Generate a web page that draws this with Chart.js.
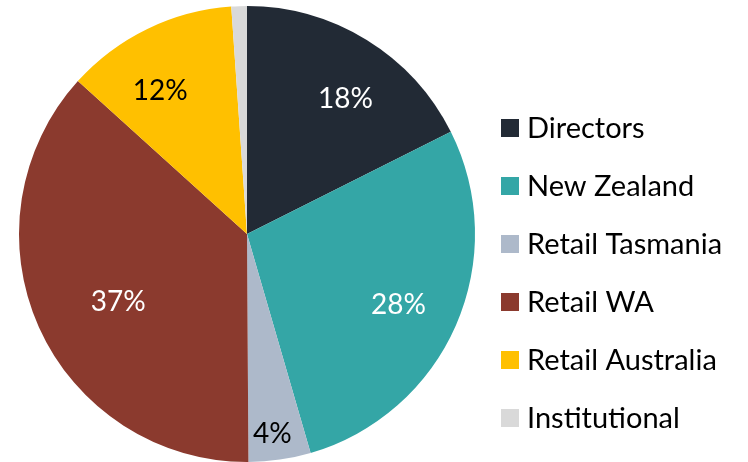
<!DOCTYPE html>
<html>
<head>
<meta charset="utf-8">
<script src="https://cdn.jsdelivr.net/npm/chart.js@4"></script>
<style>
    html, body { margin: 0; padding: 0; background: #ffffff; }
    #wrap { width: 748px; height: 462px; }
</style>
</head>
<body>
<div id="wrap"><canvas id="shareChart" width="748" height="462"></canvas></div>
<script>
// Shareholder groups and their share of the register (%)
const categories = ['Directors', 'New Zealand', 'Retail Tasmania', 'Retail WA', 'Retail Australia', 'Institutional'];
const shares = [17.6, 27.9, 4.4, 36.8, 12.2, 1.1];
const sliceColors = ['#222a35', '#34a6a6', '#adb9ca', '#8b3a2e', '#ffc000', '#d9d9d9'];
const labelColors = ['#ffffff', '#ffffff', '#000000', '#ffffff', '#000000', '#000000'];
const showLabel = [true, true, true, true, true, false];

const FONT = 'Lato, "Open Sans", sans-serif';

// Percent labels inside slices
const sliceLabels = {
    id: 'sliceLabels',
    afterDatasetsDraw(chart, args, opts) {
        const ctx = chart.ctx;
        const arcs = chart.getDatasetMeta(0).data;
        ctx.save();
        ctx.font = opts.size + 'px ' + FONT;
        ctx.textAlign = 'center';
        ctx.textBaseline = 'middle';
        arcs.forEach((arc, i) => {
            if (!showLabel[i]) return;
            const p = arc.getProps(['x', 'y', 'startAngle', 'endAngle', 'outerRadius'], true);
            const mid = (p.startAngle + p.endAngle) / 2 + opts.shift[i] * Math.PI / 180;
            const r = p.outerRadius * opts.radius[i];
            ctx.fillStyle = labelColors[i];
            ctx.fillText(Math.round(shares[i]) + '%', p.x + Math.cos(mid) * r, p.y + Math.sin(mid) * r + 2);
        });
        ctx.restore();
    }
};

// Legend drawn on the right side
const sideLegend = {
    id: 'sideLegend',
    afterDraw(chart, args, opts) {
        const ctx = chart.ctx;
        ctx.save();
        ctx.font = opts.size + 'px ' + FONT;
        ctx.textBaseline = 'middle';
        ctx.textAlign = 'left';
        chart.data.labels.forEach((label, i) => {
            const y = opts.top + i * opts.step;
            ctx.fillStyle = sliceColors[i];
            ctx.fillRect(opts.left, y - opts.box / 2, opts.box, opts.box);
            ctx.fillStyle = '#000000';
            ctx.fillText(label, opts.left + opts.box + 8, y + 1);
        });
        ctx.restore();
    }
};

const ctx = document.getElementById('shareChart').getContext('2d');
new Chart(ctx, {
    type: 'pie',
    data: {
        labels: categories,
        datasets: [{
            data: shares,
            backgroundColor: sliceColors,
            borderWidth: 0
        }]
    },
    options: {
        responsive: false,
        maintainAspectRatio: false,
        animation: false,
        layout: {
            padding: { left: 18, right: 272, top: 6, bottom: 0 }
        },
        plugins: {
            legend: { display: false },
            tooltip: { enabled: false },
            sliceLabels: {
                size: 28,
                radius: [0.74, 0.73, 0.875, 0.635, 0.74, 0],
                shift: [4, 1, 1, -3, -5, 0]
            },
            sideLegend: { left: 501, top: 128, step: 58, box: 18, size: 29 }
        }
    },
    plugins: [sliceLabels, sideLegend]
});
</script>
</body>
</html>
